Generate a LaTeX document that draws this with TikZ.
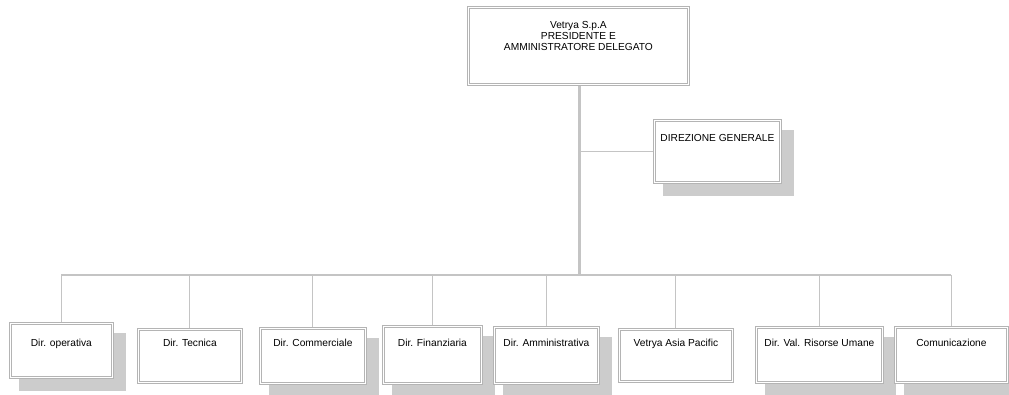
\documentclass[tikz,border=0pt]{standalone}
\usepackage{fontspec}
\setmainfont{Liberation Sans}
\usetikzlibrary{backgrounds}
\definecolor{linegray}{HTML}{B4B4B4}
\definecolor{conngray}{HTML}{C4C4C4}
\definecolor{shadowgray}{HTML}{CCCCCC}
\begin{document}
\begin{tikzpicture}[x=1pt,y=1pt,
  box/.style={draw=linegray, line width=0.8pt, fill=white, inner sep=0pt, anchor=north west},
  innerline/.style={draw=linegray, line width=0.8pt},
  lbl/.style={inner sep=0pt, align=center, font=\fontsize{10.2}{11}\selectfont},
  conn/.style={draw=conngray, line width=1pt},
  trunk/.style={draw=conngray, line width=3pt},
  bus/.style={draw=conngray, line width=1.6pt}]
\useasboundingbox (0,0) rectangle (1009,395);
% boxes: top-left corner at (x, 395-y)
\node[box, minimum width=221.2pt, minimum height=78.2pt] (top)  at (467.4,395-6.4) {};
\node[box, minimum width=127.2pt, minimum height=63.2pt] (dg)   at (653.4,395-119.4) {};
\node[box, minimum width=103.2pt, minimum height=55.2pt] (ops)  at (9.4,395-322.4) {};
\node[box, minimum width=104.2pt, minimum height=54.2pt] (tec)  at (137.4,395-328.4) {};
\node[box, minimum width=106.2pt, minimum height=56.2pt] (comm) at (259.4,395-327.4) {};
\node[box, minimum width=99.2pt,  minimum height=58.2pt] (fin)  at (382.4,395-325.4) {};
\node[box, minimum width=105.2pt, minimum height=57.2pt] (amm)  at (493.4,395-326.4) {};
\node[box, minimum width=114.2pt, minimum height=53.2pt] (asia) at (618.4,395-328.4) {};
\node[box, minimum width=127.2pt, minimum height=56.2pt] (ru)   at (755.4,395-326.4) {};
\node[box, minimum width=113.2pt, minimum height=56.2pt] (cmz)  at (894.4,395-326.4) {};
\foreach \n in {top,dg,ops,tec,comm,fin,amm,asia,ru,cmz}{
  \draw[innerline] ([shift={(2.2,-2.2)}]\n.north west) rectangle ([shift={(-2.2,2.2)}]\n.south east);
}
% labels
\node[lbl, anchor=north] (topT) at (top.north |- 0,395-21.3)
  {Vetrya S.p.A\\PRESIDENTE E\\AMMINISTRATORE DELEGATO};
\node[lbl, anchor=base] (dgT) at (dg.north |- 0,395-142) {DIREZIONE GENERALE};
\foreach \n/\t in {ops/Dir. operativa, tec/Dir. Tecnica, comm/Dir. Commerciale,
                   fin/Dir. Finanziaria, amm/Dir. Amministrativa, asia/Vetrya Asia Pacific,
                   ru/Dir. Val. Risorse Umane, cmz/Comunicazione}{
  \node[lbl, anchor=base] (\n T) at (\n.north |- 0,395-347) {\t};
}
\coordinate (busc) at (579,395-275);
\begin{scope}[on background layer]
  \fill[white] (0,0) rectangle (1009,395);
  \foreach \n in {dg,ops,comm,fin,amm,ru,cmz}{
    \fill[shadowgray] ([shift={(10,-11)}]\n.north west) rectangle ([shift={(13,-13)}]\n.south east);
  }
  \draw[trunk] (top.south -| busc) -- (busc);
  \draw[conn] (busc |- dg.west) -- (dg.west);
  \draw[bus] (busc -| ops.north) -- (busc -| cmz.north);
  \foreach \n in {ops,tec,comm,fin,amm,asia,ru,cmz}{
    \draw[conn] (busc -| \n.north) -- (\n.north);
  }
\end{scope}
\end{tikzpicture}
\end{document}
